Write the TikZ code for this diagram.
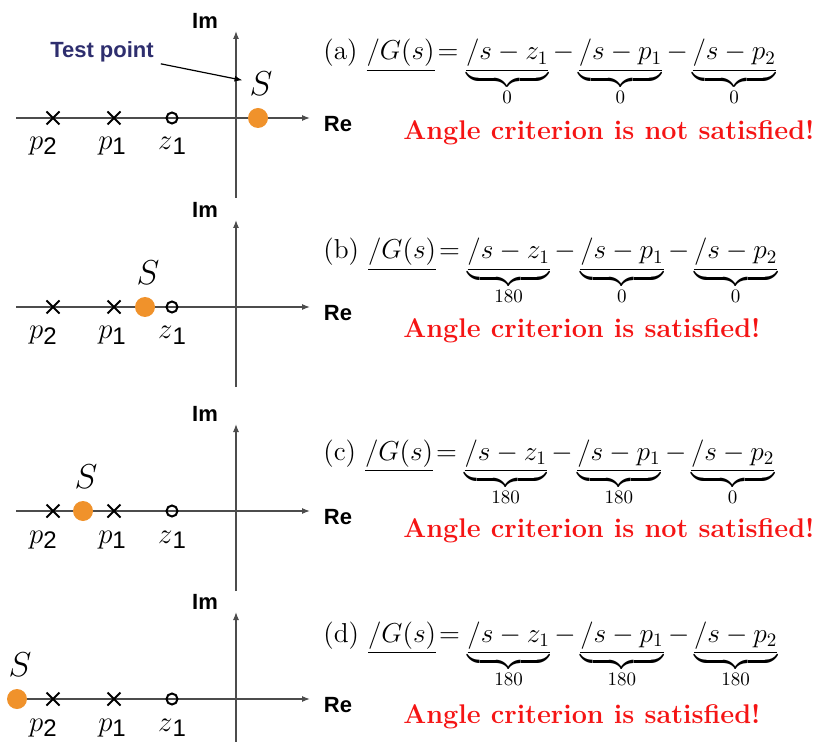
\documentclass[tikz,border=0pt]{standalone}
\usepackage{amsmath,amssymb}
\usepackage{fontspec}
\usepackage{graphicx}
\usepackage{xcolor}
\usepackage{tikz}
\usetikzlibrary{arrows.meta,shapes.misc}
\newfontfamily\labelsf{Liberation Sans}
\definecolor{OrangePoint}{RGB}{240,146,43}
\definecolor{RedCriterion}{RGB}{245,20,20}
\definecolor{NavyTest}{RGB}{46,46,110}

\begin{document}
\begin{tikzpicture}[x=0.5pt,y=-0.5pt,>={Latex[length=4pt,width=3pt]},
  axis/.style={->,line width=0.6pt,black!70},
  axlabel/.style={font=\labelsf\bfseries\fontsize{11}{13}\selectfont},
  pole/.style={cross out,draw,line width=1pt,minimum size=5.5pt,inner sep=0pt},
  zero/.style={circle,draw,line width=1pt,minimum size=5.5pt,inner sep=0pt},
  testpt/.style={circle,fill=OrangePoint,minimum size=10pt,inner sep=0pt},
  pzlabel/.style={anchor=base,font=\fontsize{14.4}{16}\selectfont},
  slabel/.style={font=\fontsize{19}{21}\selectfont},
  eqn/.style={anchor=base west,inner sep=0pt,font=\fontsize{14.4}{17}\selectfont},
  verdict/.style={anchor=base west,inner sep=0pt,text=RedCriterion,font=\bfseries\fontsize{13.5}{16}\selectfont}]
  \useasboundingbox (0,0) rectangle (817,742);
  \foreach \i/\ry/\sx/\ey/\va/\vb/\vc/\ty/\verd in
    {a/118/258/60/0/0/0/140/not satisfied!,
     b/307/145/259/180/0/0/338/satisfied!,
     c/511/83/460/180/180/0/537/not satisfied!,
     d/699/17/642/180/180/180/723/satisfied!}{
    \pgfmathsetmacro{\yb}{min(\ry+80,742)}
    \coordinate (w\i) at (16,\ry);
    \coordinate (e\i) at (310,\ry);
    \coordinate (b\i) at (236,\yb);
    \coordinate (n\i) at (236,\ry-87);
    \draw[axis] (w\i) -- (e\i);
    \draw[axis] (b\i) -- (n\i);
    \node[axlabel] (im\i) at (205,\ry-97) {Im};
    \node[axlabel] (re\i) at (338,\ry+6) {Re};
    \node[pole] (ptwo\i) at (53,\ry) {};
    \node[pole] (pone\i) at (114,\ry) {};
    \node[zero] (zone\i) at (172,\ry) {};
    \node[pzlabel] (lptwo\i) at (43,\ry+32) {$p$\raisebox{-2.5pt}{\labelsf\fontsize{12}{14}\selectfont 2}};
    \node[pzlabel] (lpone\i) at (112,\ry+32) {$p$\raisebox{-2.5pt}{\labelsf\fontsize{12}{14}\selectfont 1}};
    \node[pzlabel] (lzone\i) at (172,\ry+32) {$z$\raisebox{-2.5pt}{\labelsf\fontsize{12}{14}\selectfont 1}};
    \node[testpt] (s\i) at (\sx,\ry) {};
    \node[slabel] (S\i) at (\sx+3,\ry-34) {$S$};
    \node[eqn] (eq\i) at (323,\ey) {\scalebox{0.95}{(\i) $\underline{/G(s)}\!=\underbrace{\underline{/s-z_1}}_{\va}-\underbrace{\underline{/s-p_1}}_{\vb}-\underbrace{\underline{/s-p_2}}_{\vc}$}};
    \node[verdict] (v\i) at (403,\ty) {Angle criterion is \verd};
  }
  % test point pointer
  \node[font=\labelsf\bfseries\fontsize{11}{13}\selectfont,text=NavyTest] (testlbl) at (102,52) {Test point};
  \draw[->,line width=0.6pt] (testlbl) -- (Sa);
\end{tikzpicture}
\end{document}
